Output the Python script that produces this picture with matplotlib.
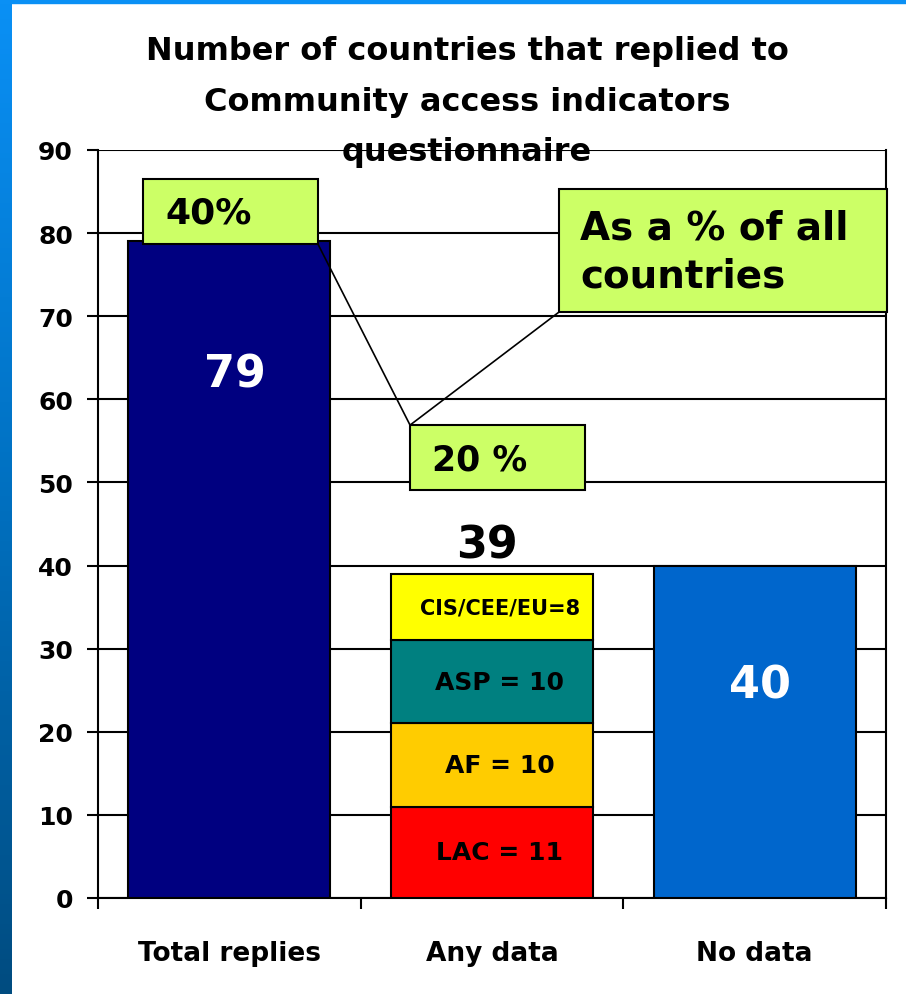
import matplotlib
matplotlib.use('Agg')
import matplotlib.pyplot as plt
import numpy as np
from matplotlib.patches import Rectangle
from matplotlib.colors import LinearSegmentedColormap

# data
categories = ['Total replies', 'Any data', 'No data']
totals = [79, 39, 40]
regions = ['LAC', 'AF', 'ASP', 'CIS/CEE/EU']
region_counts = [11, 10, 10, 8]
region_labels = ['LAC = 11', 'AF = 10', 'ASP = 10', 'CIS/CEE/EU=8']
region_colors = ['#FF0000', '#FFCC00', '#008080', '#FFFF00']
share_labels = ['40%', '20 %']
callout_text = 'As a % of all\ncountries'

plt.rcParams['font.family'] = ['DejaVu Sans']
plt.rcParams['font.weight'] = 'bold'

W, H = 906, 995
fig = plt.figure(figsize=(W / 100, H / 100), dpi=100)
fig.patch.set_facecolor('white')

# blue frame on the left and top
strip = fig.add_axes([0, 0, 12 / W, 1])
cmap = LinearSegmentedColormap.from_list('frame', ['#0A90F5', '#0070C0', '#004C80'])
strip.imshow(np.linspace(0, 1, 200).reshape(-1, 1), aspect='auto', cmap=cmap)
strip.axis('off')
fig.patches.append(Rectangle((0, 1 - 4 / H), 1, 4 / H, transform=fig.transFigure,
                             color='#0A90F5', zorder=5))

ax = fig.add_axes([98 / W, (H - 899) / H, 788 / W, 748 / H])
x = np.arange(len(categories))
bw = 0.77

ax.bar(x[0], totals[0], bw, color='#000080', edgecolor='black', lw=1.5, zorder=3)
ax.bar(x[2], totals[2], bw, color='#0066CC', edgecolor='black', lw=1.5, zorder=3)
bottom = 0
for cnt, col, lab in zip(region_counts, region_colors, region_labels):
    ax.bar(x[1], cnt, bw, bottom=bottom, color=col, edgecolor='black', lw=1.5, zorder=3)
    fs = 15 if len(lab) > 10 else 18
    ax.text(x[1] + 0.03, bottom + cnt / 2, lab, ha='center', va='center',
            fontsize=fs, fontweight='bold', color='black', zorder=4)
    bottom += cnt

ax.text(x[0] + 0.02, 63, str(totals[0]), color='white', fontsize=32,
        fontweight='bold', ha='center', va='center', zorder=4)
ax.text(x[1] - 0.02, sum(region_counts) + 3.5, str(totals[1]), color='black', fontsize=32,
        fontweight='bold', ha='center', va='center', zorder=4)
ax.text(x[2] + 0.02, 25.6, str(totals[2]), color='white', fontsize=32,
        fontweight='bold', ha='center', va='center', zorder=4)

ax.set_xlim(-0.5, 2.5)
ax.set_ylim(0, 90)
ax.set_yticks(range(0, 91, 10))
ax.yaxis.grid(True, color='black', lw=1.5)
ax.set_axisbelow(True)
ax.tick_params(axis='y', direction='out', length=8, width=1.5, labelsize=18, pad=10)
ax.set_xticks(x)
ax.set_xticklabels(categories, fontsize=19, fontweight='bold')
ax.set_xticks([-0.5, 0.5, 1.5, 2.5], minor=True)
ax.tick_params(axis='x', which='major', length=0, pad=30)
ax.tick_params(axis='x', which='minor', direction='out', length=8, width=1.5)
for lab in ax.get_yticklabels():
    lab.set_fontweight('bold')
for s in ax.spines.values():
    s.set_linewidth(1.5)
ax.spines['top'].set_visible(False)

# callouts
green = '#CCFF66'
ax.plot([0.337, 0.688, 1.255], [78.7, 56.9, 70.5], color='black', lw=1.2, zorder=6)
ax.add_patch(Rectangle((-0.329, 78.7), 0.666, 7.8, facecolor=green, edgecolor='black',
                       lw=1.5, zorder=7, clip_on=False))
ax.text(-0.245, 82.5, share_labels[0], fontsize=26, fontweight='bold', va='center',
        ha='left', zorder=8)
ax.add_patch(Rectangle((0.688, 49.1), 0.666, 7.8, facecolor=green, edgecolor='black',
                       lw=1.5, zorder=7, clip_on=False))
ax.text(0.771, 52.8, share_labels[1], fontsize=25, fontweight='bold', va='center',
        ha='left', zorder=8)
ax.add_patch(Rectangle((1.255, 70.5), 1.25, 14.8, facecolor=green, edgecolor='black',
                       lw=1.5, zorder=7, clip_on=False))
ax.text(1.335, 77.8, callout_text, fontsize=28, fontweight='bold', va='center',
        ha='left', linespacing=1.35, zorder=8)

fig.text(467 / W, 1 - 102 / H,
         'Number of countries that replied to\nCommunity access indicators\nquestionnaire',
         ha='center', va='center', fontsize=23, fontweight='bold', linespacing=1.8,
         zorder=2)

fig.savefig('out.png', dpi=100)
